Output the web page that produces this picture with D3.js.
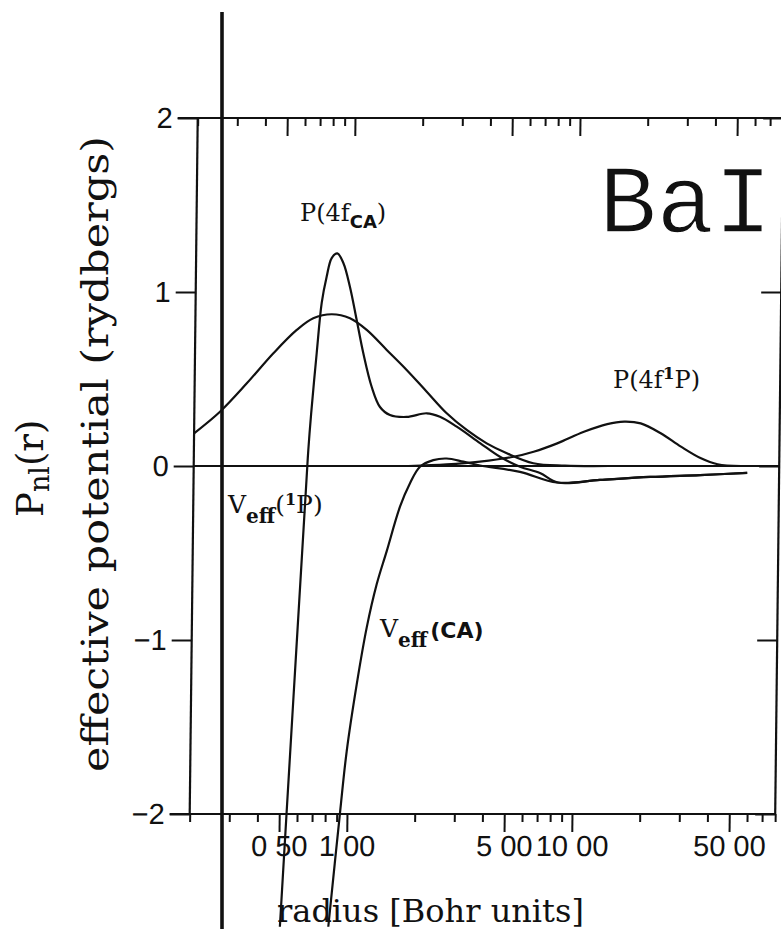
<!DOCTYPE html>
<html>
<head>
<meta charset="utf-8">
<script src="https://cdn.jsdelivr.net/npm/d3@7"></script>
<style>
  html, body { margin: 0; padding: 0; background: #fff; }
  svg { display: block; }
</style>
</head>
<body>
<script>
// ---- axis definitions ----
const xDomain = [0.2, 80];
const yDomain = [-2, 2];
const majorTicks = [0.5, 1, 5, 10, 50];
const majorTickLabels = ["0 50", "1 00", "5 00", "10 00", "50 00"];
const minorTicks = [0.2, 0.3, 0.4, 0.6, 0.7, 0.8, 0.9, 2, 3, 4, 6, 7, 8, 9, 20, 30, 40, 60, 70, 80];
const yTicks = [-2, -1, 0, 1, 2];
const yTickLabels = ["\u22122", "\u22121", "0", "1", "2"];

// ---- curves: radius (Bohr) and value (Ry for potentials, a.u. for P_nl) ----
// effective potential, 4f 1P term
const veff1PRadius = [0.510, 0.539, 0.584, 0.629, 0.645, 0.661, 0.695, 0.727, 0.762, 0.801,
  0.848, 0.903, 0.969, 1.042, 1.119, 1.225, 1.336, 1.481, 1.757, 2.157,
  2.471, 2.937, 3.736, 4.587, 5.64, 6.92, 8.33, 12.8, 21.4, 35.6, 57.7];
const veff1PValue = [-2.648, -1.993, -1.057, -0.195, 0.092, 0.300, 0.651, 0.937, 1.086, 1.195,
  1.222, 1.167, 1.029, 0.839, 0.649, 0.454, 0.339, 0.293, 0.282, 0.303,
  0.283, 0.226, 0.132, 0.053, -0.004, -0.040, -0.095, -0.080, -0.063, -0.052, -0.040];

// effective potential, configuration average
const veffCARadius = [0.837, 0.931, 0.990, 1.088, 1.197, 1.319, 1.456, 1.659, 1.833, 2.026,
  2.320, 2.661, 3.156, 3.743, 5.64, 8.25, 12.8, 21.4, 35.6, 57.7];
const veffCAValue = [-2.648, -1.993, -1.638, -1.255, -0.929, -0.680, -0.489, -0.234, -0.099, -0.004,
  0.034, 0.043, 0.025, 0.003, -0.034, -0.095, -0.080, -0.063, -0.052, -0.040];

// radial function P(4f), configuration average (collapsed)
const p4fCARadius = [0.2, 0.260, 0.341, 0.446, 0.565, 0.668, 0.807, 0.973, 1.156, 1.422,
  1.748, 2.152, 2.647, 3.254, 4.0, 4.92, 6.46, 8.93, 14];
const p4fCAValue = [0.188, 0.312, 0.475, 0.648, 0.782, 0.849, 0.872, 0.849, 0.782, 0.667,
  0.552, 0.427, 0.303, 0.207, 0.130, 0.073, 0.016, 0.002, 0.0];

// radial function P(4f 1P) (extended)
const p4f1PRadius = [1.8, 2.66, 3.74, 5.27, 6.47, 8.23, 10.8, 13.7, 16.3, 19.3, 23.7, 29.2, 35.9, 42.6, 54];
const p4f1PValue = [0, 0.009, 0.025, 0.053, 0.082, 0.130, 0.197, 0.241, 0.255, 0.245, 0.188, 0.111, 0.044, 0.010, 0];

const zip = (rs, vs) => rs.map((r, i) => ({ r, v: vs[i] }));
const curves = [
  zip(p4fCARadius, p4fCAValue),
  zip(p4f1PRadius, p4f1PValue),
  zip(veffCARadius, veffCAValue),
  zip(veff1PRadius, veff1PValue)
];

// ---- layout ----
const W = 781, H = 929;
const x = d3.scaleLog().domain(xDomain).range([189.7, 775.2]);
const y = d3.scaleLinear().domain(yDomain).range([814, 118]);

const svg = d3.select("body").append("svg")
  .attr("width", W).attr("height", H)
  .attr("viewBox", `0 0 ${W} ${H}`);

const ink = "#111";
const sans = "'Liberation Sans', Arial, sans-serif";
const serif = "'DejaVu Serif', serif";

// the printed frame leans slightly: shear about the bottom axis
const yb = y(yDomain[0]);
const plot = svg.append("g")
  .attr("transform", `translate(0,${yb}) skewX(-0.66) translate(0,${-yb})`);

// frame: left and right edges
plot.append("line")
  .attr("x1", x(xDomain[0])).attr("x2", x(xDomain[0]))
  .attr("y1", y(2)).attr("y2", y(-2))
  .attr("stroke", ink).attr("stroke-width", 2.2);
plot.append("line")
  .attr("x1", x(xDomain[1])).attr("x2", x(xDomain[1]))
  .attr("y1", y(2)).attr("y2", y(-2))
  .attr("stroke", ink).attr("stroke-width", 2.2);

// zero line
plot.append("line")
  .attr("x1", x(xDomain[0])).attr("x2", x(xDomain[1]))
  .attr("y1", y(0)).attr("y2", y(0))
  .attr("stroke", ink).attr("stroke-width", 2);

function styleAxis(g) {
  g.select(".domain").remove();
  g.selectAll(".tick line").attr("stroke", ink).attr("stroke-width", 2);
  g.selectAll(".tick text").attr("fill", ink)
    .style("font-family", sans).style("font-size", "29px");
}

// bottom and top axes: minor and major ticks hanging below each line
[y(-2), y(2)].forEach((yy, k) => {
  plot.append("line")
    .attr("x1", x(xDomain[0]) - 20).attr("x2", x(xDomain[1]))
    .attr("y1", yy).attr("y2", yy)
    .attr("stroke", ink).attr("stroke-width", 2.2);

  plot.append("g").attr("transform", `translate(0,${yy})`)
    .call(d3.axisBottom(x).tickValues(minorTicks).tickSize(8).tickFormat(""))
    .call(styleAxis);

  const major = d3.axisBottom(x).tickValues(majorTicks).tickSize(18).tickPadding(3);
  major.tickFormat(k === 0 ? (d, i) => majorTickLabels[i] : "");
  plot.append("g").attr("transform", `translate(0,${yy})`)
    .call(major)
    .call(styleAxis);
});

// left axis with labels, right axis ticks pointing inward
plot.append("g").attr("transform", `translate(${x(xDomain[0])},0)`)
  .call(d3.axisLeft(y).tickValues(yTicks).tickSize(20).tickPadding(5)
    .tickFormat((d, i) => yTickLabels[i]))
  .call(styleAxis);
plot.append("g").attr("transform", `translate(${x(xDomain[1])},0)`)
  .call(d3.axisLeft(y).tickValues(yTicks).tickSize(20).tickFormat(""))
  .call(styleAxis);

// curves
const line = d3.line()
  .x(d => x(d.r))
  .y(d => y(d.v))
  .curve(d3.curveCatmullRom.alpha(0.5));

plot.append("g").selectAll("path")
  .data(curves)
  .join("path")
  .attr("d", line)
  .attr("fill", "none")
  .attr("stroke", ink)
  .attr("stroke-width", 2.2)
  .attr("stroke-linejoin", "round");

// heavy vertical rule running down the page
svg.append("line")
  .attr("x1", 222).attr("x2", 222)
  .attr("y1", 12).attr("y2", H)
  .attr("stroke", ink).attr("stroke-width", 3.6);

// ---- annotations ----
const ann = svg.append("g").attr("fill", ink);

// element symbol, light face (white outline trims the strokes)
ann.append("text")
  .attr("x", 599).attr("y", 232)
  .attr("stroke", "#fff").attr("stroke-width", 1.4)
  .style("font-family", "'Liberation Mono', 'Courier New', monospace")
  .style("font-size", "96px")
  .text("BaI");

// P(4f_CA)
{
  const t = ann.append("text").attr("x", 300).attr("y", 221)
    .style("font-family", serif).style("font-size", "24px");
  t.append("tspan").text("P(4f");
  t.append("tspan").attr("dy", 7).style("font-family", "'DejaVu Sans', sans-serif")
    .style("font-weight", "bold").style("font-size", "18px").text("CA");
  t.append("tspan").attr("dy", -7).text(")");
}

// P(4f 1P)
{
  const t = ann.append("text").attr("x", 613).attr("y", 388)
    .style("font-family", serif).style("font-size", "24px");
  t.append("tspan").text("P(4f");
  t.append("tspan").attr("dy", -9).style("font-size", "17px").style("font-weight", "bold").text("1");
  t.append("tspan").attr("dy", 9).text("P)");
}

// V_eff(1P)
{
  const t = ann.append("text").attr("x", 228).attr("y", 513)
    .style("font-family", serif).style("font-size", "25px");
  t.append("tspan").text("V");
  t.append("tspan").attr("dy", 10).style("font-weight", "bold").style("font-size", "20px").text("eff");
  t.append("tspan").attr("dy", -10).text("(");
  t.append("tspan").attr("dy", -8).style("font-size", "16px").style("font-weight", "bold").text("1");
  t.append("tspan").attr("dy", 8).text("P)");
}

// V_eff(CA)
{
  const t = ann.append("text").attr("x", 380).attr("y", 637)
    .style("font-family", serif).style("font-size", "25px");
  t.append("tspan").text("V");
  t.append("tspan").attr("dy", 10).style("font-weight", "bold").style("font-size", "20px").text("eff");
  t.append("tspan").attr("dx", 3).attr("dy", -9).style("font-family", "'DejaVu Sans', sans-serif")
    .style("font-weight", "bold").style("font-size", "22px").text("(CA)");
}

// ---- axis titles ----
svg.append("text")
  .attr("x", 277).attr("y", 922)
  .attr("fill", ink)
  .style("font-family", serif).style("font-size", "32px")
  .text("radius [Bohr units]");

{
  const t = svg.append("text")
    .attr("transform", "translate(43,517) rotate(-90)")
    .attr("fill", ink)
    .style("font-family", serif).style("font-size", "37px");
  t.append("tspan").text("P");
  t.append("tspan").attr("dy", 6).style("font-size", "27px").text("nl");
  t.append("tspan").attr("dy", -6).text("(r)");
}

svg.append("text")
  .attr("transform", "translate(108,772) rotate(-90)")
  .attr("fill", ink)
  .attr("textLength", 636)
  .attr("lengthAdjust", "spacingAndGlyphs")
  .style("font-family", serif).style("font-size", "37px")
  .text("effective potential (rydbergs)");
</script>
</body>
</html>
